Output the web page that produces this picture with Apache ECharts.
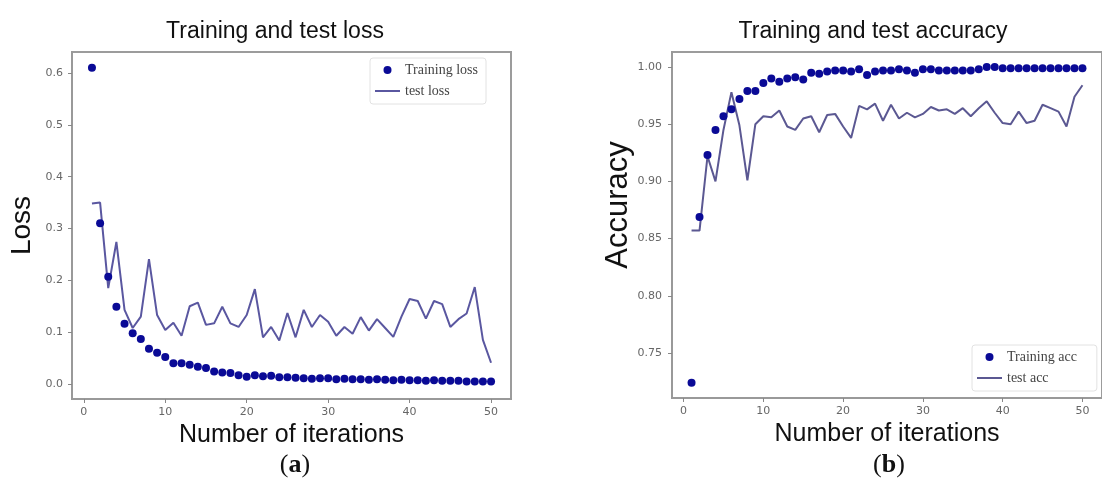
<!DOCTYPE html>
<html>
<head>
<meta charset="utf-8">
<script src="https://cdn.jsdelivr.net/npm/echarts@6/dist/echarts.min.js"></script>
<style>html,body{margin:0;padding:0;background:#fff;}#c{width:1102px;height:487px;}</style>
</head>
<body>
<div id="c"></div>
<script>
const iterations = [1,2,3,4,5,6,7,8,9,10,11,12,13,14,15,16,17,18,19,20,21,22,23,24,25,26,27,28,29,30,31,32,33,34,35,36,37,38,39,40,41,42,43,44,45,46,47,48,49,50];
const trainLoss = [0.61,0.31,0.207,0.149,0.116,0.098,0.087,0.068,0.06,0.052,0.04,0.04,0.037,0.033,0.031,0.024,0.022,0.021,0.017,0.014,0.017,0.015,0.016,0.013,0.013,0.012,0.011,0.01,0.011,0.011,0.009,0.01,0.009,0.009,0.008,0.009,0.008,0.007,0.008,0.007,0.007,0.006,0.007,0.006,0.006,0.006,0.005,0.005,0.005,0.005];
const testLoss = [0.348,0.35,0.185,0.274,0.143,0.108,0.13,0.241,0.133,0.104,0.118,0.093,0.15,0.157,0.114,0.117,0.149,0.117,0.11,0.133,0.183,0.09,0.11,0.084,0.137,0.09,0.143,0.11,0.133,0.12,0.093,0.11,0.097,0.129,0.103,0.125,0.108,0.091,0.13,0.164,0.16,0.126,0.16,0.154,0.11,0.125,0.136,0.187,0.085,0.041];
const trainAcc = [0.724,0.869,0.923,0.945,0.957,0.963,0.972,0.979,0.979,0.986,0.99,0.987,0.99,0.991,0.989,0.995,0.994,0.996,0.997,0.997,0.996,0.998,0.993,0.996,0.997,0.997,0.998,0.997,0.995,0.998,0.998,0.997,0.997,0.997,0.997,0.997,0.998,1.0,1.0,0.999,0.999,0.999,0.999,0.999,0.999,0.999,0.999,0.999,0.999,0.999];
const testAcc = [0.857,0.857,0.922,0.9,0.945,0.978,0.949,0.901,0.95,0.957,0.956,0.962,0.948,0.945,0.955,0.957,0.943,0.958,0.959,0.948,0.938,0.966,0.963,0.968,0.953,0.967,0.955,0.96,0.956,0.959,0.965,0.962,0.963,0.959,0.964,0.957,0.964,0.97,0.96,0.951,0.95,0.961,0.951,0.953,0.967,0.964,0.961,0.948,0.974,0.984];
const xTicks = [0,10,20,30,40,50];
const lossTicks = [0,0.1,0.2,0.3,0.4,0.5,0.6];
const accTicks = [0.75,0.8,0.85,0.9,0.95,1.0];

const pairs = arr => iterations.map((x,i)=>[x,arr[i]]);
const dotColor = '#0a0a96';
const lineColor = '#5a57a0';
const accLineColor = '#5b5892';
const tickLabel = {color:'#666', fontSize:11, fontFamily:'DejaVu Sans'};
const sans = 'Liberation Sans';
const lineIcon = 'path://M0,0H25V2H0Z';

function xAxis(gi){
  return {
    type:'value', gridIndex:gi, min:-1.45, max:52.45,
    name:'Number of iterations', nameLocation:'middle', nameGap:20,
    nameTextStyle:{fontSize:25, color:'#111', fontFamily:sans},
    axisLine:{show:true, onZero:false, lineStyle:{color:'#999', width:2}},
    axisTick:{show:true, customValues:xTicks, length:4, lineStyle:{color:'#888'}},
    axisLabel:Object.assign({customValues:xTicks, margin:8}, tickLabel),
    splitLine:{show:false}
  };
}

const chart = echarts.init(document.getElementById('c'));
chart.setOption({
  animation:false,
  backgroundColor:'#fff',
  title:[
    {text:'Training and test loss', left:270, top:15, textAlign:'center', textStyle:{fontSize:23, fontWeight:'normal', color:'#111', fontFamily:sans}},
    {text:'Training and test accuracy', left:868, top:15, textAlign:'center', textStyle:{fontSize:23, fontWeight:'normal', color:'#111', fontFamily:sans}},
    {text:'({b|a})', left:290, top:447, textAlign:'center', textStyle:{fontSize:26, fontWeight:'normal', color:'#111', fontFamily:'Liberation Serif', rich:{b:{fontSize:26, fontWeight:'bold', color:'#111', fontFamily:'Liberation Serif'}}}},
    {text:'({b|b})', left:884, top:447, textAlign:'center', textStyle:{fontSize:26, fontWeight:'normal', color:'#111', fontFamily:'Liberation Serif', rich:{b:{fontSize:26, fontWeight:'bold', color:'#111', fontFamily:'Liberation Serif'}}}}
  ],
  grid:[
    {left:72, top:52, width:439, height:347, show:true, borderColor:'#9c9c9c', borderWidth:2, backgroundColor:'#fff'},
    {left:672, top:52, width:440, height:346, show:true, borderColor:'#9c9c9c', borderWidth:2, backgroundColor:'#fff'}
  ],
  legend:[
    {data:[{name:'Training loss', icon:'circle'}, {name:'test loss', icon:lineIcon}], orient:'vertical', left:370, top:58, itemWidth:25, itemHeight:8, itemGap:7,
     padding:[5,8,6,5], borderColor:'#e2e2e2', borderWidth:1, borderRadius:3, backgroundColor:'#fff',
     textStyle:{fontFamily:'Liberation Serif', fontSize:14, color:'#444'}},
    {data:[{name:'Training acc', icon:'circle'}, {name:'test acc', icon:lineIcon}], orient:'vertical', left:972, top:345, itemWidth:25, itemHeight:8, itemGap:7,
     padding:[5,20,6,5], borderColor:'#e2e2e2', borderWidth:1, borderRadius:3, backgroundColor:'#fff',
     textStyle:{fontFamily:'Liberation Serif', fontSize:14, color:'#444'}}
  ],
  xAxis:[xAxis(0), xAxis(1)],
  yAxis:[
    {type:'value', gridIndex:0, min:-0.029, max:0.6405,
     name:'Loss', nameLocation:'middle', nameGap:36, nameTextStyle:{fontSize:28, color:'#111', fontFamily:sans},
     axisLine:{show:true, onZero:false, lineStyle:{color:'#999', width:2}},
     axisTick:{show:true, customValues:lossTicks, length:4, lineStyle:{color:'#888'}},
     axisLabel:Object.assign({customValues:lossTicks, margin:9, formatter:v=>v.toFixed(1)}, tickLabel),
     splitLine:{show:false}},
    {type:'value', gridIndex:1, min:0.7107, max:1.0131,
     name:'Accuracy', nameLocation:'middle', nameGap:38, nameTextStyle:{fontSize:31, color:'#111', fontFamily:sans, padding:[0,0,0,40]},
     axisLine:{show:true, onZero:false, lineStyle:{color:'#999', width:2}},
     axisTick:{show:true, customValues:accTicks, length:4, lineStyle:{color:'#888'}},
     axisLabel:Object.assign({customValues:accTicks, margin:10, formatter:v=>v.toFixed(2)}, tickLabel),
     splitLine:{show:false}}
  ],
  series:[
    {name:'test loss', type:'line', xAxisIndex:0, yAxisIndex:0, data:pairs(testLoss), symbol:'none',
     lineStyle:{color:lineColor, width:2}, itemStyle:{color:lineColor}, z:2},
    {name:'Training loss', type:'scatter', xAxisIndex:0, yAxisIndex:0, data:pairs(trainLoss), symbol:'circle', symbolSize:8,
     itemStyle:{color:dotColor, opacity:1}, z:3},
    {name:'test acc', type:'line', xAxisIndex:1, yAxisIndex:1, data:pairs(testAcc), symbol:'none',
     lineStyle:{color:accLineColor, width:2}, itemStyle:{color:accLineColor}, z:2},
    {name:'Training acc', type:'scatter', xAxisIndex:1, yAxisIndex:1, data:pairs(trainAcc), symbol:'circle', symbolSize:8,
     itemStyle:{color:dotColor, opacity:1}, z:3}
  ]
});
</script>
</body>
</html>
